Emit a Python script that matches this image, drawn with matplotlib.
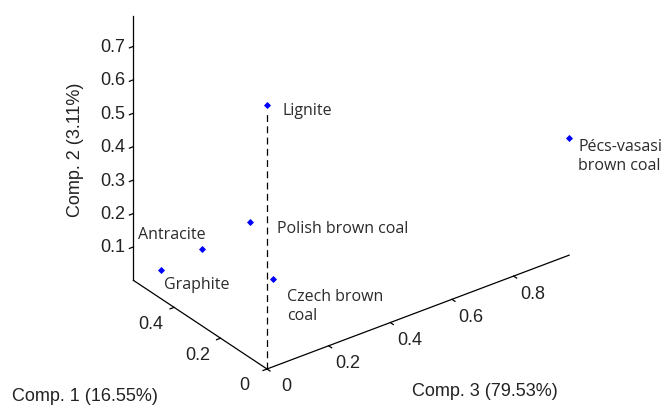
import matplotlib
matplotlib.use("Agg")
import matplotlib.pyplot as plt
from mpl_toolkits.mplot3d import proj3d
import numpy as np

# PCA scores of the coal samples
samples = ["Graphite", "Antracite", "Polish brown coal", "Czech brown\ncoal",
           "Lignite", "Pécs-vasasi\nbrown coal"]
comp1 = [0.575, 0.35, 0.15, 0.05, 0.0, 0.0]
comp2 = [0.0, 0.18, 0.35, 0.227, 0.79, 0.35]
comp3 = [0.09, 0.054, 0.058, 0.057, 0.0, 0.98]

comp1_ticks = [0, 0.2, 0.4]
comp2_ticks = [0.1, 0.2, 0.3, 0.4, 0.5, 0.6, 0.7]
comp3_ticks = [0, 0.2, 0.4, 0.6, 0.8]
comp1_label = "Comp. 1 (16.55%)"
comp2_label = "Comp. 2 (3.11%)"
comp3_label = "Comp. 3 (79.53%)"

# label offsets from each marker, in pixels (x right, y up)
label_offsets = {
    "Graphite": (3, -14),
    "Antracite": (-64, 15),
    "Polish brown coal": (27, -6),
    "Czech brown\ncoal": (14, -27),
    "Lignite": (15, -5),
    "Pécs-vasasi\nbrown coal": (9, -17),
}

W, H, DPI = 6.7, 4.1, 100
fig = plt.figure(figsize=(W, H), dpi=DPI)
ax = fig.add_axes([0, 0, 1, 1], projection="3d", proj_type="ortho")

# x = Comp. 3, y = Comp. 1, z = Comp. 2 (tight limits, equal unit scaling)
x_max, y_max, z_max = max(comp3), max(comp1), max(comp2)
ax.set_xlim(0, x_max)
ax.set_ylim(0, y_max)
ax.set_zlim(0, z_max)
ax.view_init(elev=30, azim=-127)
ax.set_box_aspect((x_max, y_max, z_max))
ax.set_axis_off()


def to_px(x, y, z):
    X, Y, _ = proj3d.proj_transform(x, y, z, ax.M)
    return ax.transData.transform((X, Y))


# scale the box so one data unit spans ~386 px, with the origin at (267, 40)
fig.canvas.draw()
p0 = to_px(0, 0, 0)
p1 = to_px(0, 0, z_max)
scale_now = (p1[1] - p0[1]) / z_max
target_scale = 386 * np.cos(np.radians(30))
ax.set_box_aspect((x_max, y_max, z_max), zoom=target_scale / scale_now)
fig.canvas.draw()
p0 = to_px(0, 0, 0)
dx = (267 - p0[0]) / (W * DPI)
dy = (40 - p0[1]) / (H * DPI)
ax.set_position([dx, dy, 1, 1])
fig.canvas.draw()

k = dict(color="black", lw=0.9, clip_on=False)
axis_col = "#222222"
tick_len = 0.013
tick_font = dict(fontsize=13, family="Liberation Sans", color=axis_col)


def label_at(x, y, z, s, off, **kw):
    """Place 2D text at the projected position of a 3D point, offset in pixels."""
    ax.annotate(s, xy=tuple(to_px(x, y, z)), xycoords="figure pixels",
                xytext=off, textcoords="offset pixels", annotation_clip=False, **kw)


# axis lines
ax.plot([0, 0], [0, y_max], [0, 0], **k)
ax.plot([0, x_max], [0, 0], [0, 0], **k)
ax.plot([0, 0], [y_max, y_max], [0, z_max], **k)

# ticks and tick labels
for t in comp2_ticks:
    ax.plot([0, -tick_len], [y_max, y_max], [t, t], **k)
    label_at(0, y_max, t, f"{t:g}", (-8, 0), ha="right", va="center", **tick_font)
for t in comp1_ticks:
    ax.plot([0, -tick_len], [t, t], [0, 0], **k)
    label_at(0, t, 0, f"{t:g}", (-23, -16), ha="center", va="center", **tick_font)
for t in comp3_ticks:
    ax.plot([t, t], [0, -tick_len], [0, 0], **k)
    label_at(t, 0, 0, f"{t:g}", (19, -17), ha="center", va="center", **tick_font)

# dashed stem under Lignite
i_lig = samples.index("Lignite")
ax.plot([comp3[i_lig]] * 2, [comp1[i_lig]] * 2, [0, comp2[i_lig] - 0.02],
        color="black", lw=0.9, dashes=(5.5, 3.5), clip_on=False)

# sample markers
ax.plot(comp3, comp1, comp2, linestyle="none", marker="D", ms=3.0, mew=0.6,
        color="#0000ff", mec="#0000ff", clip_on=False)

for name, c1, c2, c3 in zip(samples, comp1, comp2, comp3):
    label_at(c3, c1, c2, name, label_offsets[name], ha="left", va="center",
             fontsize=11.5, family="Open Sans", color="#2b2b2b", linespacing=1.25)

# axis titles
fig.text(76 / 670, 1 - 150 / 410, comp2_label, rotation=90, ha="center", va="center",
         **tick_font)
fig.text(12 / 670, 1 - 397 / 410, comp1_label, ha="left", va="center", **tick_font)
fig.text(412 / 670, 1 - 392 / 410, comp3_label, ha="left", va="center", **tick_font)

fig.savefig("out.png", dpi=DPI)
